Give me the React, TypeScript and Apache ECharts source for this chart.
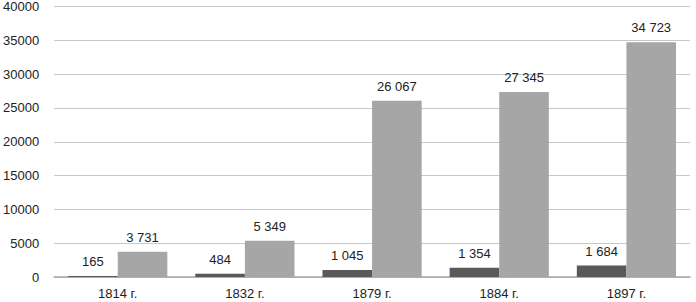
import React, { useEffect, useRef } from "react";
import * as echarts from "echarts";

const categories = ["1814 г.", "1832 г.", "1879 г.", "1884 г.", "1897 г."];
const seriesDark = [165, 484, 1045, 1354, 1684];
const seriesLight = [3731, 5349, 26067, 27345, 34723];

const fmt = (v: number) => String(v).replace(/\B(?=(\d{3})+(?!\d))/g, " ");

export default function App() {
  const ref = useRef<HTMLDivElement>(null);
  useEffect(() => {
    if (!ref.current) return;
    const chart = echarts.init(ref.current, null, { renderer: "svg" });
    const font = "Liberation Sans";
    const label = {
      show: true,
      position: "top",
      distance: 8,
      color: "#222",
      fontFamily: font,
      fontSize: 13,
      formatter: (p: any) => fmt(p.value),
    };
    chart.setOption({
      animation: false,
      grid: { left: 53, right: 6, top: 6, bottom: 25, containLabel: false },
      xAxis: {
        type: "category",
        data: categories,
        axisLine: { lineStyle: { color: "#a6a6a6", width: 1.5 } },
        axisTick: { show: false },
        axisLabel: { color: "#222", fontFamily: font, fontSize: 13, margin: 10 },
      },
      yAxis: {
        type: "value",
        min: 0,
        max: 40000,
        interval: 5000,
        axisLine: { show: false },
        axisTick: { show: false },
        splitLine: { lineStyle: { color: "#c8c8c8", width: 1 } },
        axisLabel: {
          color: "#222",
          fontFamily: font,
          fontSize: 13,
          margin: 15,
          formatter: (v: number) => String(v),
        },
      },
      series: [
        {
          type: "bar",
          data: seriesDark,
          itemStyle: { color: "#595959" },
          barGap: "0%",
          barCategoryGap: "22%",
          label,
        },
        {
          type: "bar",
          data: seriesLight,
          itemStyle: { color: "#a6a6a6" },
          barGap: "0%",
          barCategoryGap: "22%",
          label,
        },
      ],
    });
    return () => chart.dispose();
  }, []);
  return <div ref={ref} style={{ width: 696, height: 302, position: "absolute", left: 0, top: 0 }} />;
}
